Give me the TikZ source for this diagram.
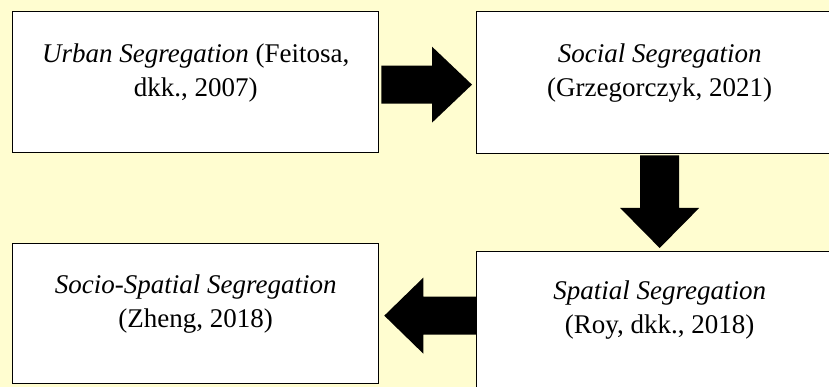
\documentclass[tikz,border=0pt]{standalone}
\usepackage{fontspec}
\setmainfont{Liberation Serif}
\usetikzlibrary{calc}
\definecolor{bgyellow}{RGB}{255,253,208}
\begin{document}
\begin{tikzpicture}[x=1pt,y=-1pt,
  box/.style={draw=black, line width=1.3pt, fill=white, inner sep=0pt, anchor=north west, minimum width=366pt},
  txt/.style={align=center, anchor=north, inner sep=0pt, font=\fontsize{27}{34}\selectfont},
  fat/.style={fill=black}]
\useasboundingbox (0,0) rectangle (829,387);
\fill[bgyellow] (0,0) rectangle (829,387);
\node[box, minimum height=141pt] (b1) at (12,11) {};
\node[box, minimum height=142pt] (b2) at (476,11) {};
\node[box, minimum height=140pt] (b3) at (12,243) {};
\node[box, minimum height=140pt] (b4) at (476,251) {};
\node[txt] (t1) at ($(b1.north)+(0,33)$) {\textit{Urban Segregation} (Feitosa,\\dkk., 2007)};
\node[txt] (t2) at ($(b2.north)+(0,33)$) {\textit{Social Segregation}\\(Grzegorczyk, 2021)};
\node[txt] (t3) at ($(b3.north)+(0,32)$) {\textit{Socio-Spatial Segregation}\\(Zheng, 2018)};
\node[txt] (t4) at ($(b4.north)+(0,30)$) {\textit{Spatial Segregation}\\(Roy, dkk., 2018)};
% right arrow
\coordinate (ra) at ($(b1.east)+(2,2.5)$);
\coordinate (rt) at ($(b2.west |- ra)+(-4,0)$);
\fill[fat] ($(ra)+(0,-19)$) -- ($(rt)+(-40,-19)$) -- ($(rt)+(-40,-38)$) -- (rt) -- ($(rt)+(-40,38)$) -- ($(rt)+(-40,19)$) -- ($(ra)+(0,19)$) -- cycle;
% down arrow
\coordinate (dn) at ($(b2.south)+(0,1)$);
\coordinate (dt) at ($(b4.north)+(0,-3)$);
\fill[fat] ($(dn)+(-19.5,0)$) -- ($(dt)+(-19.5,-40)$) -- ($(dt)+(-39.5,-40)$) -- (dt) -- ($(dt)+(39.5,-40)$) -- ($(dt)+(19.5,-40)$) -- ($(dn)+(19.5,0)$) -- cycle;
% left arrow
\coordinate (la) at ($(b4.west)+(0,-6)$);
\coordinate (lt) at ($(b3.east |- la)+(5,0)$);
\fill[fat] ($(la)+(0,-19)$) -- ($(lt)+(39,-19)$) -- ($(lt)+(39,-38)$) -- (lt) -- ($(lt)+(39,38)$) -- ($(lt)+(39,19)$) -- ($(la)+(0,19)$) -- cycle;
\end{tikzpicture}
\end{document}
